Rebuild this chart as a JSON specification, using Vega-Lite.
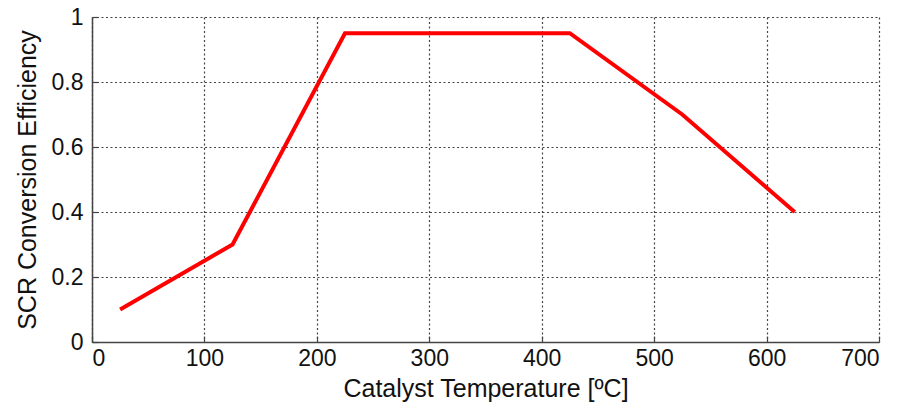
{
  "$schema": "https://vega.github.io/schema/vega-lite/v6.json",
  "autosize": "none",
  "width": 787,
  "height": 325,
  "padding": {"left": 92, "top": 17, "right": 24, "bottom": 67},
  "background": "white",
  "data": {"values": [
    {"t": 25, "eff": 0.1},
    {"t": 125, "eff": 0.3},
    {"t": 225, "eff": 0.95},
    {"t": 425, "eff": 0.95},
    {"t": 525, "eff": 0.7},
    {"t": 625, "eff": 0.4}
  ]},
  "config": {
    "font": "Liberation Sans",
    "view": {"stroke": null},
    "axis": {
      "grid": true,
      "gridColor": "#444",
      "gridDash": [2, 2.5],
      "gridOpacity": 1,
      "gridWidth": 1.2,
      "domainColor": "#444",
      "domainWidth": 1.5,
      "tickColor": "#444",
      "tickSize": -6,
      "tickWidth": 1.2,
      "labelFontSize": 23,
      "labelColor": "#111",
      "titleFontSize": 25,
      "titleFontWeight": "normal",
      "titleColor": "#111"
    }
  },
  "mark": {"type": "line", "color": "#ff0000", "strokeWidth": 4, "strokeCap": "butt", "strokeJoin": "miter"},
  "encoding": {
    "x": {
      "field": "t", "type": "quantitative",
      "scale": {"domain": [0, 700], "nice": false},
      "axis": {"values": [0, 100, 200, 300, 400, 500, 600, 700], "format": "d", "title": "Catalyst Temperature [ºC]", "labelPadding": 11, "titlePadding": 6}
    },
    "y": {
      "field": "eff", "type": "quantitative",
      "scale": {"domain": [0, 1], "nice": false},
      "axis": {"values": [0, 0.2, 0.4, 0.6, 0.8, 1], "format": "~g", "title": "SCR Conversion Efficiency", "labelPadding": 15, "titlePadding": 11}
    }
  }
}
